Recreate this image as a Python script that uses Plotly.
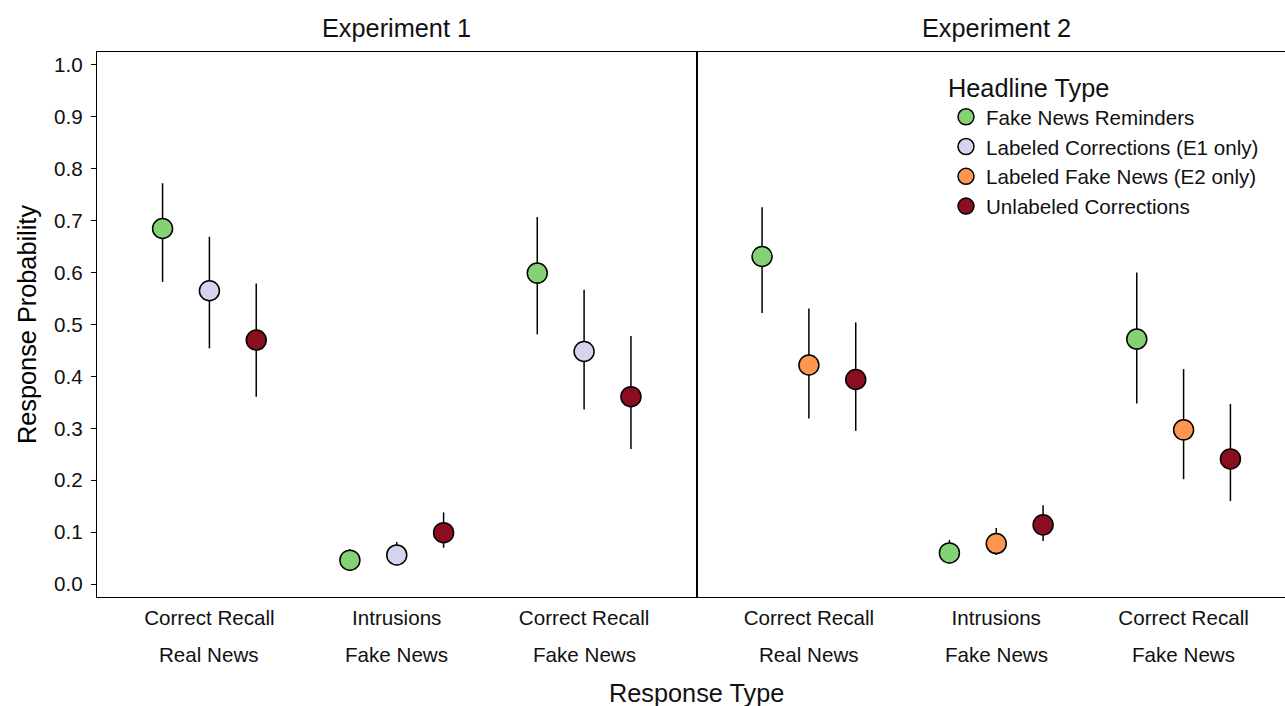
import plotly.graph_objects as go

# Response categories (two-line labels) shared by both experiments
resp_line1 = ["Correct Recall", "Intrusions", "Correct Recall"]
resp_line2 = ["Real News", "Fake News", "Fake News"]
cat_pos = [1, 2, 3]

# Experiment 1: estimates with lower / upper interval bounds
e1_reminders = [0.685, 0.046, 0.599]
e1_reminders_lo = [0.582, 0.028, 0.481]
e1_reminders_hi = [0.772, 0.067, 0.707]

e1_labeled_corr = [0.565, 0.056, 0.448]
e1_labeled_corr_lo = [0.454, 0.036, 0.336]
e1_labeled_corr_hi = [0.669, 0.081, 0.567]

e1_unlabeled = [0.470, 0.099, 0.361]
e1_unlabeled_lo = [0.361, 0.070, 0.260]
e1_unlabeled_hi = [0.579, 0.138, 0.478]

# Experiment 2
e2_reminders = [0.631, 0.060, 0.472]
e2_reminders_lo = [0.522, 0.040, 0.348]
e2_reminders_hi = [0.726, 0.085, 0.600]

e2_labeled_fake = [0.422, 0.078, 0.297]
e2_labeled_fake_lo = [0.319, 0.056, 0.202]
e2_labeled_fake_hi = [0.531, 0.108, 0.414]

e2_unlabeled = [0.394, 0.114, 0.241]
e2_unlabeled_lo = [0.295, 0.083, 0.160]
e2_unlabeled_hi = [0.504, 0.152, 0.347]

y_ticks = [0.0, 0.1, 0.2, 0.3, 0.4, 0.5, 0.6, 0.7, 0.8, 0.9, 1.0]

FONT = "Liberation Sans, Arial, Helvetica, sans-serif"
COL = {
    "Fake News Reminders": "#84D275",
    "Labeled Corrections (E1 only)": "#D4D4EE",
    "Labeled Fake News (E2 only)": "#FE9650",
    "Unlabeled Corrections": "#8A0E20",
}
RANK = {name: i + 1 for i, name in enumerate(COL)}
DODGE = 0.25
TXT = 20.6
TITLE = 25.3

fig = go.Figure()


def add_series(name, y, lo, hi, offset, xa, ya, show):
    fig.add_trace(go.Scatter(
        x=[c + offset for c in cat_pos], y=y,
        mode="markers", name=name, legendgroup=name, showlegend=show,
        legendrank=RANK[name],
        xaxis=xa, yaxis=ya,
        marker=dict(size=20, color=COL[name], line=dict(color="black", width=1.5)),
        error_y=dict(type="data", symmetric=False,
                     array=[h - v for h, v in zip(hi, y)],
                     arrayminus=[v - l for v, l in zip(y, lo)],
                     color="black", thickness=1.5, width=0),
    ))


add_series("Fake News Reminders", e1_reminders, e1_reminders_lo, e1_reminders_hi, -DODGE, "x", "y", True)
add_series("Labeled Corrections (E1 only)", e1_labeled_corr, e1_labeled_corr_lo, e1_labeled_corr_hi, 0, "x", "y", True)
add_series("Unlabeled Corrections", e1_unlabeled, e1_unlabeled_lo, e1_unlabeled_hi, DODGE, "x", "y", True)
add_series("Fake News Reminders", e2_reminders, e2_reminders_lo, e2_reminders_hi, -DODGE, "x2", "y2", False)
add_series("Labeled Fake News (E2 only)", e2_labeled_fake, e2_labeled_fake_lo, e2_labeled_fake_hi, 0, "x2", "y2", True)
add_series("Unlabeled Corrections", e2_unlabeled, e2_unlabeled_lo, e2_unlabeled_hi, DODGE, "x2", "y2", False)

W, H = 1285, 706
left0, split = 97, 696.5
unit = (split - left0) / 3.2  # pixels per category step

xcommon = dict(tickvals=cat_pos, ticktext=resp_line1, ticks="", showgrid=False,
               zeroline=False, showline=True, linecolor="black", linewidth=1.3,
               mirror=True, tickfont=dict(size=TXT, color="#111"), ticklabelstandoff=2)
fig.update_layout(
    width=W, height=H,
    margin=dict(l=0, r=0, t=52, b=109),
    paper_bgcolor="white", plot_bgcolor="white",
    font=dict(family=FONT, color="black"),
    xaxis=dict(domain=[left0 / W, split / W], range=[0.4, 3.6], **xcommon),
    xaxis2=dict(domain=[split / W, 1.0], range=[0.4, 0.4 + (W - split) / unit], **xcommon),
    yaxis=dict(range=[-0.025, 1.025], tickvals=y_ticks, ticktext=[f"{v:.1f}" for v in y_ticks],
               ticks="outside", ticklen=5, tickcolor="black", tickwidth=1.3,
               showgrid=False, zeroline=False, showline=True, linecolor="black",
               linewidth=1.3, mirror=True, tickfont=dict(size=TXT, color="#111"),
               ticklabelstandoff=4,
               title=dict(text="Response Probability", font=dict(size=TITLE), standoff=10)),
    yaxis2=dict(range=[-0.025, 1.025], anchor="x2", showticklabels=False, ticks="",
                showgrid=False, zeroline=False, showline=True, linecolor="black",
                linewidth=1.3),
    legend=dict(x=946 / W, xanchor="left",
                y=1 - (64 - 52) / 545, yanchor="top",
                bgcolor="rgba(0,0,0,0)", font=dict(size=TXT, color="#111"),
                title=dict(text="Headline Type", font=dict(size=TITLE, color="#111")),
                traceorder="normal", itemsizing="trace", tracegroupgap=0),
)

# Second line of the category labels
for i, c in enumerate(cat_pos):
    for xr in ("x", "x2"):
        fig.add_annotation(x=c, xref=xr, y=(597 - 655) / 545, yref="paper",
                           text=resp_line2[i], showarrow=False, yanchor="middle",
                           font=dict(size=TXT, color="#111"))

# Panel strip titles
for label, cx in (("Experiment 1", (left0 + split) / 2), ("Experiment 2", split + (split - left0) / 2)):
    fig.add_annotation(x=cx / W, xref="paper", y=(597 - 28) / 545, yref="paper",
                       text=label, showarrow=False, yanchor="middle", xanchor="center",
                       font=dict(size=TITLE, color="#111"))

# Shared x axis title
fig.add_annotation(x=split / W, xref="paper", y=(597 - 693) / 545, yref="paper",
                   text="Response Type", showarrow=False, yanchor="middle",
                   font=dict(size=TITLE, color="#111"))

fig.write_html("out.html")
